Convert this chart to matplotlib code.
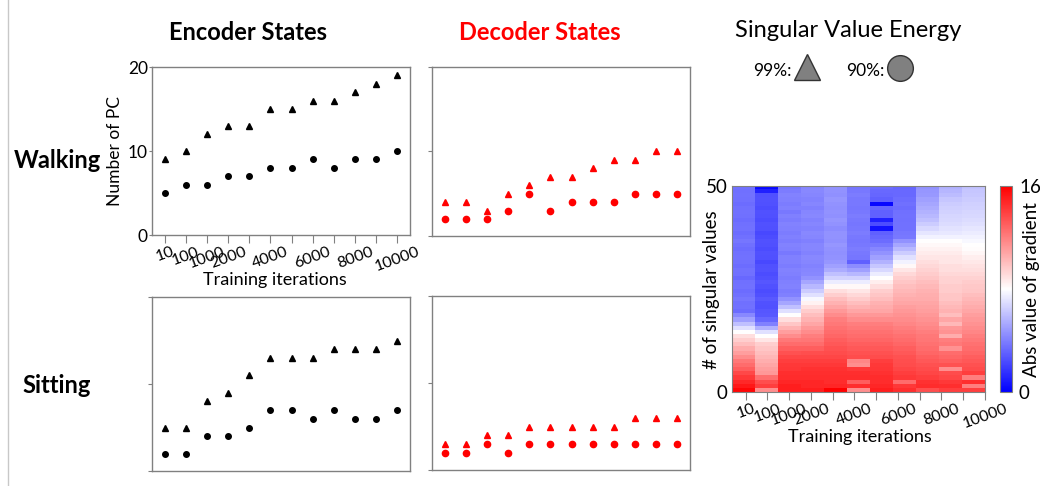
import numpy as np
import matplotlib
matplotlib.use('Agg')
import matplotlib.pyplot as plt
from matplotlib.lines import Line2D

plt.rcParams['font.family'] = ['Lato', 'DejaVu Sans']

# Training iterations (x axis) and which ticks get a label
iterations = [10, 100, 1000, 2000, 3000, 4000, 5000, 6000, 7000, 8000, 9000, 10000]
tick_labels = ['10', '100', '1000', '2000', '', '4000', '', '6000', '', '8000', '', '10000']

# Number of PCs needed for 99% / 90% singular value energy
enc_walk_99 = [9, 10, 12, 13, 13, 15, 15, 16, 16, 17, 18, 19]
enc_walk_90 = [5, 6, 6, 7, 7, 8, 8, 9, 8, 9, 9, 10]
dec_walk_99 = [4, 4, 3, 5, 6, 7, 7, 8, 9, 9, 10, 10]
dec_walk_90 = [2, 2, 2, 3, 5, 3, 4, 4, 4, 5, 5, 5]
enc_sit_99 = [5, 5, 8, 9, 11, 13, 13, 13, 14, 14, 14, 15]
enc_sit_90 = [2, 2, 4, 4, 5, 7, 7, 6, 7, 6, 6, 7]
dec_sit_99 = [3, 3, 4, 4, 5, 5, 5, 5, 5, 6, 6, 6]
dec_sit_90 = [2, 2, 3, 2, 3, 3, 3, 3, 3, 3, 3, 3]

# Abs value of gradient per singular value (row 0 = bottom), one list per column
grad_c1 = [15.8, 15.2, 14.7, 14.2, 13.7, 13.0, 12.6, 12.2, 11.6, 11.0,
           10.6, 10.0, 9.5, 9.0, 8.0, 7.0, 6.0, 5.0, 4.3,
           3.4, 3.6, 3.5, 3.7, 3.5, 3.4, 3.6, 3.5, 3.3, 3.5, 3.6, 3.4, 3.5, 3.6, 3.5,
           3.4, 3.5, 3.7, 3.5, 3.4, 3.6, 3.5, 3.4, 3.5, 3.6, 3.5, 3.4, 3.5, 3.6, 3.5, 3.6]
grad_c2 = [11.5, 14.0, 13.5, 12.5, 11.2, 11.0, 10.8, 10.5, 10.3, 10.0,
           9.8, 9.5, 8.8, 8.0, 7.0, 5.5, 4.0, 3.2, 2.8,
           2.7, 2.5, 2.6, 2.8, 2.5, 2.4, 2.6, 2.7, 2.5, 2.4, 2.6, 2.5, 2.3, 2.5, 2.6,
           2.4, 2.5, 2.6, 2.4, 2.3, 2.5, 2.6, 2.4, 2.5, 2.6, 2.4, 2.5, 2.6, 2.5, 1.0, 0.3]
grad_c3 = [15.0, 15.0, 14.8, 14.6, 14.5, 14.3, 14.2, 14.0, 13.8, 13.4,
           13.0, 12.6, 12.2, 11.6, 11.0, 10.4, 9.8, 9.0, 8.0, 7.0, 6.0, 5.2, 4.6,
           4.0, 3.9, 4.1, 4.0, 3.9, 4.0, 4.1, 3.9, 4.0, 4.0, 3.8, 4.0, 4.1, 3.9,
           4.0, 3.9, 4.0, 4.1, 3.9, 4.0, 3.8, 4.0, 3.9, 4.0, 4.1, 3.9, 3.8]
grad_c4 = [15.0, 14.8, 14.8, 14.6, 14.5, 14.4, 14.2, 14.0, 13.8, 13.5,
           13.0, 12.6, 12.3, 12.0, 11.6, 11.2, 10.8, 10.4, 10.0, 9.6,
           9.0, 8.4, 7.8, 7.0, 6.4, 5.8, 5.2, 4.6,
           4.3, 4.2, 4.1, 4.2, 4.3, 4.1, 4.2, 4.2, 4.0, 4.2, 4.3, 4.1, 4.2, 4.1,
           4.3, 4.2, 4.0, 4.2, 4.1, 4.2, 4.3, 4.2]
grad_c5 = [16.0, 14.8, 14.6, 14.6, 14.5, 14.4, 14.2, 14.0, 13.8, 13.6,
           13.4, 13.2, 13.0, 12.8, 12.6, 12.4, 12.2, 12.0, 11.6, 11.2,
           10.8, 10.4, 10.0, 9.5, 9.0, 8.2, 7.4, 6.6, 6.0, 5.4, 5.0,
           4.7, 4.6, 4.5, 4.6, 4.7, 4.5, 4.6, 4.6, 4.4, 4.6, 4.7, 4.5, 4.6, 4.5,
           4.6, 4.7, 4.5, 4.6, 4.6]
grad_c6 = [11.5, 14.5, 13.0, 14.6, 14.5, 14.2, 11.5, 11.8, 13.6, 13.4,
           13.2, 13.0, 12.8, 12.6, 12.4, 12.2, 12.0, 11.6, 11.2, 10.8,
           10.4, 10.0, 9.6, 9.2, 8.8, 8.2, 7.4, 6.6, 5.8, 5.0, 4.4,
           3.0, 3.7, 3.8, 3.9, 3.8, 3.7, 3.8, 3.9, 3.8, 3.7, 3.8, 3.9, 3.8, 3.7,
           3.8, 3.8, 3.9, 3.8, 3.7]
grad_c7 = [15.0, 14.8, 14.6, 14.6, 14.4, 14.3, 14.2, 14.0, 13.6, 13.4,
           13.2, 13.0, 12.8, 12.6, 12.4, 12.2, 12.0, 11.6, 11.2, 10.8,
           10.6, 10.4, 10.0, 9.8, 9.5, 9.0, 8.5, 8.0, 7.4, 6.8,
           6.2, 5.6, 5.0, 4.6, 4.2, 3.8, 3.4, 3.2, 3.0, 0.6,
           2.4, 1.0, 3.0, 3.0, 3.2, 0.3, 3.0, 3.2, 3.3, 3.4]
grad_c8 = [14.5, 14.2, 12.6, 14.2, 14.0, 13.8, 13.6, 13.5, 13.4, 13.2,
           13.0, 12.8, 12.6, 12.4, 12.2, 12.0, 11.8, 11.6, 11.4, 11.2,
           11.0, 10.8, 10.6, 10.4, 10.2, 10.0, 9.8, 9.5, 9.2, 8.8,
           8.2, 7.6, 7.0, 6.4, 5.8, 5.2, 4.6,
           3.8, 3.7, 3.6, 3.6, 3.5, 3.6, 3.5, 3.4, 3.5, 3.4, 3.3, 3.3, 3.2]
grad_c9 = [13.5, 14.6, 14.4, 14.0, 13.8, 13.6, 13.4, 13.2, 13.0, 12.8,
           12.6, 12.4, 12.3, 12.2, 12.0, 11.8, 11.6, 11.4, 11.2, 11.0,
           10.9, 10.8, 10.6, 10.5, 10.4, 10.2, 10.0, 9.8, 9.6, 9.4,
           9.2, 9.0, 8.8, 8.6, 8.4, 8.2, 8.0, 7.6, 7.2, 6.8,
           6.4, 6.0, 5.8, 5.6, 5.4, 5.2, 5.0, 4.8, 4.7, 4.6]
grad_c10 = [14.0, 14.5, 14.2, 13.8, 13.6, 11.5, 13.4, 13.0, 12.8, 12.6,
            11.4, 12.2, 12.0, 10.6, 11.4, 11.2, 10.2, 10.8, 10.0, 10.4,
            10.2, 10.0, 9.8, 9.8, 9.6, 9.6, 9.4, 9.4, 9.2, 9.0,
            9.0, 8.8, 8.8, 8.6, 8.4, 8.2, 8.0, 7.6, 7.3, 7.1,
            6.9, 6.8, 6.7, 6.6, 6.5, 6.4, 6.2, 5.9, 5.7, 5.6]
grad_c11 = [14.0, 12.0, 14.5, 12.0, 14.0, 13.6, 13.4, 13.2, 13.0, 12.8,
            12.6, 12.4, 12.2, 12.0, 11.8, 11.6, 11.4, 11.2, 11.0, 10.8,
            10.6, 10.4, 10.2, 10.0, 9.8, 9.7, 9.6, 9.4, 9.2, 9.0,
            8.9, 8.7, 8.5, 8.3, 8.1, 8.0, 7.8, 7.6, 7.4, 7.2,
            7.0, 6.9, 6.8, 6.7, 6.6, 6.5, 6.4, 6.3, 6.2, 6.1]

grad = np.array([grad_c1, grad_c2, grad_c3, grad_c4, grad_c5, grad_c6,
                 grad_c7, grad_c8, grad_c9, grad_c10, grad_c11]).T

W, H = 1040, 486
fig = plt.figure(figsize=(W / 100, H / 100), dpi=100)
GREY = '#808080'


def px_axes(l, t, r, b):
    # axes placed by pixel edges (top-left origin)
    return fig.add_axes([l / W, 1 - b / H, (r - l) / W, (b - t) / H])


def scatter_panel(ax, y99, y90, color, ms=4.5):
    x = np.arange(len(iterations))
    ax.plot(x, y99, '^', color=color, ms=ms, ls='none')
    ax.plot(x, y90, 'o', color=color, ms=ms - 0.5, ls='none')
    ax.set_xlim(-0.6, 11.6)
    ax.set_ylim(0, 20)
    ax.set_yticks([0, 10, 20])
    ax.set_yticklabels([])
    ax.set_xticks([])
    ax.tick_params(axis='y', direction='out', length=3, color=GREY)
    for s in ax.spines.values():
        s.set_color(GREY)
        s.set_linewidth(1)


ax1 = px_axes(152, 67, 410, 235)
ax2 = px_axes(432, 67, 690, 236)
ax3 = px_axes(152, 297, 410, 471)
ax4 = px_axes(432, 296, 690, 470)

scatter_panel(ax1, enc_walk_99, enc_walk_90, 'black')
scatter_panel(ax2, dec_walk_99, dec_walk_90, 'red', ms=5)
scatter_panel(ax3, enc_sit_99, enc_sit_90, 'black')
scatter_panel(ax4, dec_sit_99, dec_sit_90, 'red', ms=5)

# encoder walking has the labelled axes
ax1.set_yticklabels(['0', '10', '20'], fontsize=12.5)
ax1.set_xticks(np.arange(len(iterations)))
ax1.set_xticklabels(tick_labels, rotation=20, ha='center', fontsize=11.5)
ax1.tick_params(axis='x', direction='out', length=6, color=GREY, pad=1)
ax1.tick_params(axis='y', length=2, pad=1)
ax1.set_ylabel('Number of PC', fontsize=12.5)
ax1.yaxis.set_label_coords(-29 / 258, 0.5)
fig.text(275 / W, 1 - 280 / H, 'Training iterations', fontsize=13,
         ha='center', va='center')

# heatmap of gradient magnitude
axh = px_axes(732, 186, 985, 392)
im = axh.imshow(grad, origin='lower', aspect='auto', cmap='bwr', vmin=0, vmax=16,
                extent=(-0.63, 11.0, 0, 50), interpolation='nearest')
axh.set_xlim(-0.63, 11.0)
axh.set_ylim(0, 50)
axh.set_yticks([0, 50])
axh.set_yticklabels(['0', '50'], fontsize=13.5)
axh.set_xticks(np.arange(len(iterations)))
axh.set_xticklabels(tick_labels, rotation=20, ha='center', fontsize=11.5)
axh.tick_params(axis='x', direction='out', length=6, color=GREY, pad=1)
axh.tick_params(axis='y', length=0, pad=3)
for s in axh.spines.values():
    s.set_color(GREY)
fig.text(712 / W, 1 - 290 / H, '# of singular values', fontsize=13.5,
         rotation=90, ha='center', va='center')
fig.text(860 / W, 1 - 437 / H, 'Training iterations', fontsize=13,
         ha='center', va='center')

cax = px_axes(1000, 186, 1012, 392)
cb = fig.colorbar(im, cax=cax, ticks=[0, 16])
cb.ax.tick_params(length=0, labelsize=13.5, pad=5)
cb.outline.set_edgecolor(GREY)
fig.text(1031 / W, 1 - 290 / H, 'Abs value of gradient', fontsize=13.5,
         rotation=90, ha='center', va='center')

# titles and row labels
fig.text(248 / W, 1 - 33 / H, 'Encoder States', fontsize=17, fontweight='bold',
         ha='center', va='center')
fig.text(540 / W, 1 - 33 / H, 'Decoder States', fontsize=17, fontweight='bold',
         color='red', ha='center', va='center')
fig.text(57 / W, 1 - 160 / H, 'Walking', fontsize=17, fontweight='bold',
         ha='center', va='center')
fig.text(57 / W, 1 - 385 / H, 'Sitting', fontsize=17, fontweight='bold',
         ha='center', va='center')

# marker legend
fig.text(848 / W, 1 - 30 / H, 'Singular Value Energy', fontsize=17,
         ha='center', va='center')
fig.text(772 / W, 1 - 71 / H, '99%:', fontsize=12.5, ha='center', va='center')
fig.text(865 / W, 1 - 71 / H, '90%:', fontsize=12.5, ha='center', va='center')
fig.add_artist(Line2D([807 / W], [1 - 67 / H], marker='^', ms=19, mfc=GREY,
                      mec='#333333', mew=1, ls='none', transform=fig.transFigure))
fig.add_artist(Line2D([900 / W], [1 - 68 / H], marker='o', ms=18.5, mfc=GREY,
                      mec='#333333', mew=1, ls='none', transform=fig.transFigure))

# thin grey border line on the left
fig.add_artist(Line2D([7.5 / W, 7.5 / W], [0, 1], color='#c8c8c8', lw=1,
                      transform=fig.transFigure))

fig.savefig('out.png', dpi=100)
